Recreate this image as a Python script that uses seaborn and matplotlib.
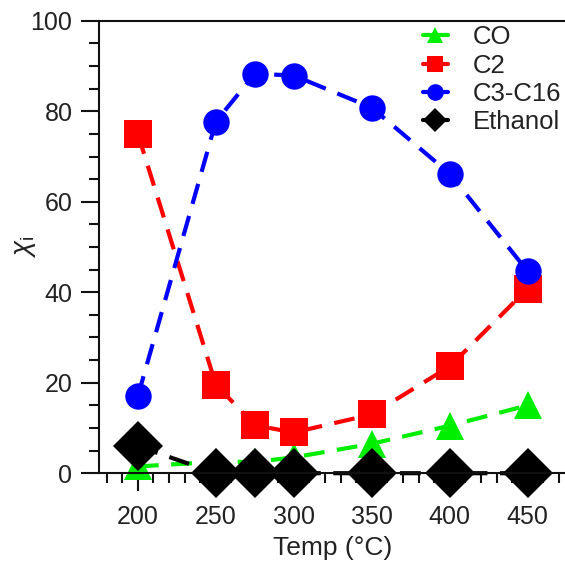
import matplotlib
matplotlib.use('Agg')
import matplotlib.pyplot as plt
import pandas as pd
import seaborn as sns
from matplotlib.lines import Line2D
from matplotlib.legend_handler import HandlerLine2D
from matplotlib.ticker import MultipleLocator

temps = [200, 250, 275, 300, 350, 400, 450]
co = [1.5, 2.5, 2.5, 3.5, 6.5, 10.5, 15.0]
c2 = [75.0, 19.6, 10.6, 9.0, 13.0, 23.6, 40.8]
c3_c16 = [17.0, 77.7, 88.3, 87.9, 80.8, 66.2, 44.6]
ethanol = [6.0, 0.0, 0.0, 0.0, 0.0, 0.0, 0.0]

series = ['CO', 'C2', 'C3-C16', 'Ethanol']
colors = {'CO': '#00ee00', 'C2': '#ff0000', 'C3-C16': '#0000ff', 'Ethanol': '#000000'}
markers = {'CO': '^', 'C2': 's', 'C3-C16': 'o', 'Ethanol': 'D'}
msizes = {'CO': 20, 'C2': 20, 'C3-C16': 19, 'Ethanol': 25}

df = pd.DataFrame({'temp': temps, 'CO': co, 'C2': c2, 'C3-C16': c3_c16, 'Ethanol': ethanol})
df_long = pd.melt(df, id_vars=['temp'], value_vars=series, var_name='product', value_name='chi')

sns.set_style('ticks')
plt.rcParams['font.family'] = ['Liberation Sans', 'DejaVu Sans']
plt.rcParams['mathtext.fontset'] = 'custom'
plt.rcParams['mathtext.rm'] = 'Liberation Sans'
plt.rcParams['mathtext.it'] = 'Liberation Sans:italic'

fig = plt.figure(figsize=(5.65, 5.62), dpi=100)
ax = fig.add_axes([0.175, 0.158, 0.828, 0.805])

sns.lineplot(data=df_long, x='temp', y='chi', hue='product', style='product',
             hue_order=series, style_order=series, palette=colors,
             markers=markers, dashes={s: (5, 3) for s in series},
             markersize=19, markeredgewidth=0, linewidth=3,
             legend=False, ax=ax)

# per-series marker size, and let markers sit over the axis
for line, s in zip(ax.lines, series):
    line.set_markersize(msizes[s])
    line.set_clip_on(False)

ax.set_xlim(175, 475)
ax.set_ylim(0, 100)
ax.xaxis.set_minor_locator(MultipleLocator(10))
ax.yaxis.set_major_locator(MultipleLocator(20))
ax.yaxis.set_minor_locator(MultipleLocator(5))
ax.set_xticks([200, 250, 300, 350, 400, 450])
ax.tick_params(which='major', direction='out', length=13, width=1.5, labelsize=18,
               color='#111111', labelcolor='#222222')
ax.tick_params(which='minor', direction='out', length=7, width=1.5, color='#111111')
ax.tick_params(axis='x', which='major', pad=10)
ax.tick_params(axis='y', which='major', pad=6)
for sp in ax.spines.values():
    sp.set_linewidth(1.5)
    sp.set_color('#111111')
ax.spines['right'].set_visible(False)

ax.set_xlabel('Temp (°C)', fontsize=19, color='#222222', labelpad=5)
ax.set_ylabel(r'$\chi_\mathrm{i}$', fontsize=20, color='#222222')
ax.yaxis.set_label_coords(-0.13, 0.5)


class HandlerMarkerRight(HandlerLine2D):
    def get_xdata(self, legend, xdescent, ydescent, width, height, fontsize):
        xdata = [-xdescent, -xdescent + width]
        return xdata, [-xdescent + width]


handles = [Line2D([], [], color=colors[s], marker=markers[s], markersize=12,
                  markeredgewidth=0, linewidth=3) for s in series]
leg = ax.legend(handles, series, loc='upper left', frameon=False, fontsize=18.5,
                handlelength=1.0, handletextpad=0.95, labelspacing=0.17,
                borderpad=0, borderaxespad=0, bbox_to_anchor=(0.692, 0.99),
                handler_map={Line2D: HandlerMarkerRight(numpoints=1)})
for t in leg.get_texts():
    t.set_color('#222222')

fig.savefig('out.png', dpi=100)
